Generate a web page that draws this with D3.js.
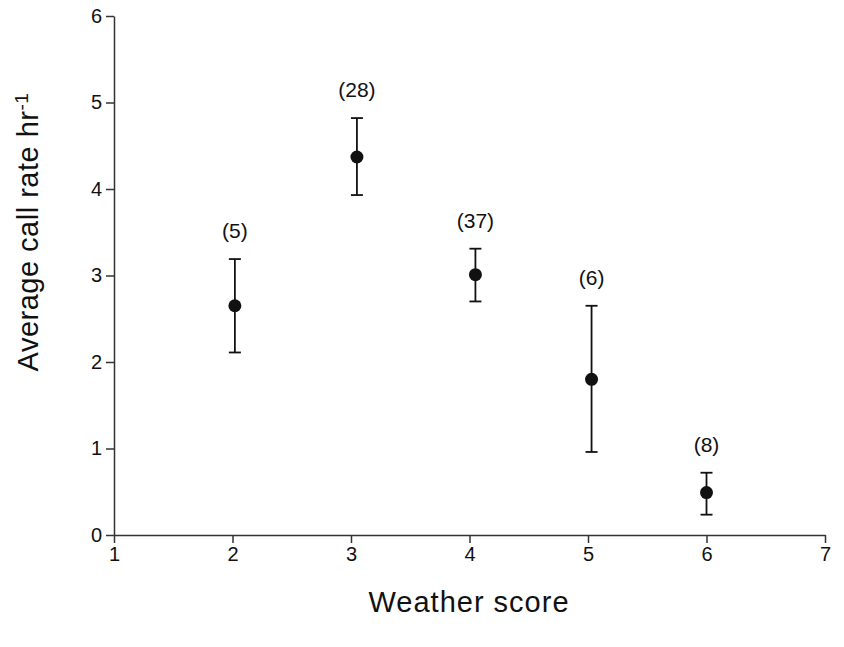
<!DOCTYPE html>
<html><head><meta charset="utf-8">
<script src="https://cdn.jsdelivr.net/npm/d3@7"></script>
<style>body{margin:0;background:#fff}svg{display:block}text{font-family:"Liberation Sans",Arial,Helvetica,sans-serif}</style>
</head><body><svg id="c" width="844" height="647"></svg>
<script>
const weatherScore = [2.02, 3.05, 4.05, 5.03, 6.0];
const meanRate = [2.65, 4.37, 3.01, 1.80, 0.49];
const upper = [3.19, 4.82, 3.31, 2.65, 0.72];
const lower = [2.11, 3.93, 2.70, 0.96, 0.235];
const nLabels = ["(5)", "(28)", "(37)", "(6)", "(8)"];
const xTicks = [1, 2, 3, 4, 5, 6, 7];
const yTicks = [0, 1, 2, 3, 4, 5, 6];

const svg = d3.select("#c");
const x = d3.scaleLinear().domain([1, 7]).range([114, 825]);
const y = d3.scaleLinear().domain([0, 6]).range([535, 16]);
const ink = "#111";

const xa = svg.append("g").attr("transform", "translate(0,535)")
  .call(d3.axisBottom(x).tickValues(xTicks).tickSize(8).tickSizeOuter(0).tickPadding(4).tickFormat(d3.format("d")));
const ya = svg.append("g").attr("transform", "translate(114,0)")
  .call(d3.axisLeft(y).tickValues(yTicks).tickSize(8).tickSizeOuter(0).tickPadding(4).tickFormat(d3.format("d")));
[xa, ya].forEach(a => {
  a.attr("font-size", 20).attr("font-family", "'Liberation Sans',Arial,sans-serif");
  a.selectAll("path").attr("stroke", "#333").attr("stroke-width", 1.5);
  a.selectAll("line").attr("stroke", "#333").attr("stroke-width", 1.5);
  a.selectAll("text").style("font-size", "20px").attr("fill", ink);
});

const data = weatherScore.map((d, i) => ({x: d, m: meanRate[i], hi: upper[i], lo: lower[i], n: nLabels[i]}));
const g = svg.append("g");
g.selectAll("line.v").data(data).join("line").attr("class", "v")
  .attr("x1", d => x(d.x)).attr("x2", d => x(d.x))
  .attr("y1", d => y(d.hi)).attr("y2", d => y(d.lo))
  .attr("stroke", ink).attr("stroke-width", 1.8);
["hi", "lo"].forEach(k => {
  g.selectAll("line.c" + k).data(data).join("line").attr("class", "c" + k)
    .attr("x1", d => x(d.x) - 6).attr("x2", d => x(d.x) + 6)
    .attr("y1", d => y(d[k])).attr("y2", d => y(d[k]))
    .attr("stroke", ink).attr("stroke-width", 1.8);
});
g.selectAll("circle").data(data).join("circle")
  .attr("cx", d => x(d.x)).attr("cy", d => y(d.m)).attr("r", 6.5).attr("fill", ink);
g.selectAll("text.n").data(data).join("text").attr("class", "n")
  .attr("x", d => x(d.x)).attr("y", d => y(d.hi) - 21)
  .attr("text-anchor", "middle").style("font-size", "21px").attr("fill", ink).text(d => d.n);

svg.append("text").attr("x", 469).attr("y", 612).attr("text-anchor", "middle")
  .style("font-size", "29px").attr("letter-spacing", 1).attr("fill", ink).text("Weather score");
const yl = svg.append("text").attr("transform", "translate(38,232) rotate(-90)")
  .attr("text-anchor", "middle").style("font-size", "29px").attr("letter-spacing", 0.5).attr("fill", ink);
yl.append("tspan").text("Average call rate  hr");
yl.append("tspan").attr("dy", -10).style("font-size", "19px").text("-1");
</script></body></html>
